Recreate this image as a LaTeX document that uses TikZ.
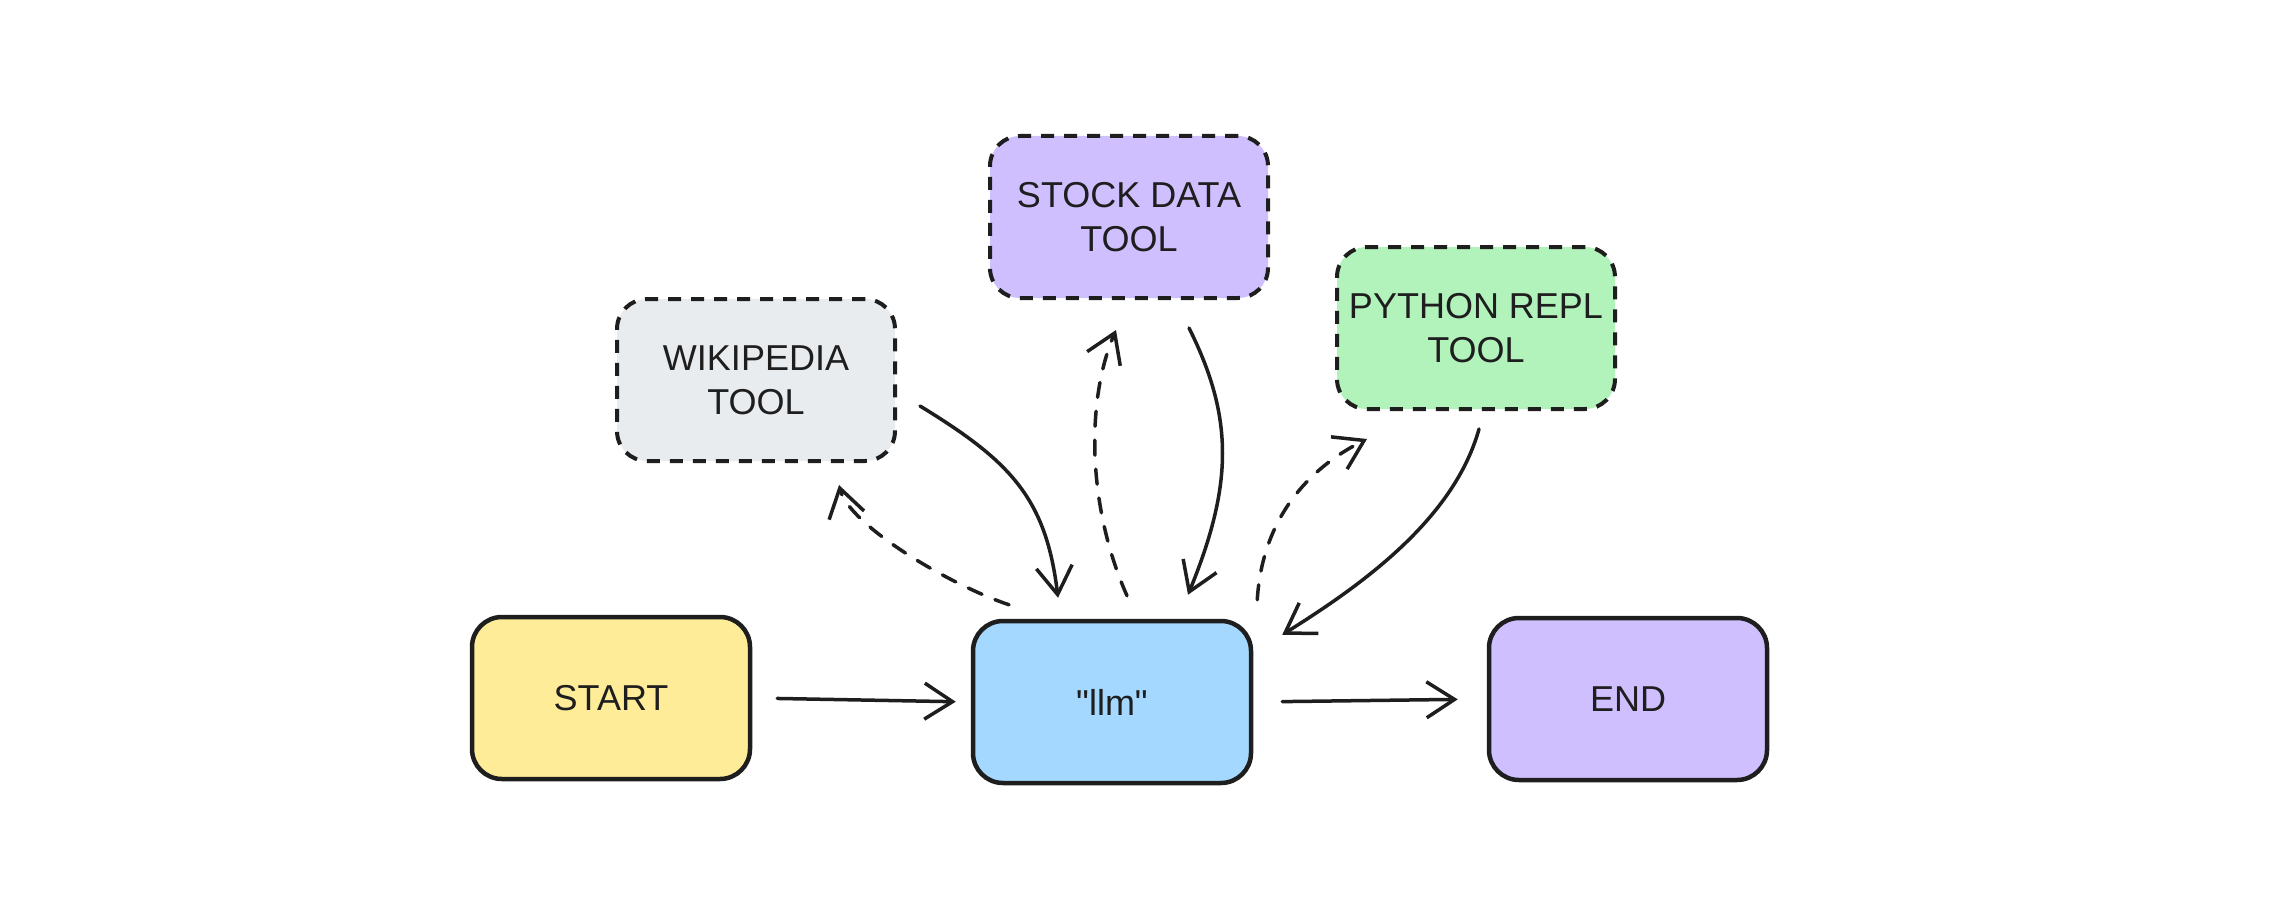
\documentclass[tikz,border=0pt]{standalone}
\usepackage{fontspec}
\setmainfont{Liberation Sans}[Ligatures=TeXOff]
\usepackage{xcolor}
\usepackage{tikz}
\usetikzlibrary{arrows.meta}

\definecolor{ink}{HTML}{1E1E1E}
\definecolor{startfill}{HTML}{FFEC99}
\definecolor{llmfill}{HTML}{A5D8FF}
\definecolor{violetfill}{HTML}{D0BFFF}
\definecolor{grayfill}{HTML}{E9ECEF}
\definecolor{greenfill}{HTML}{B2F2BB}

\begin{document}
\begin{tikzpicture}[x=1pt,y=-1pt,
  box/.style={draw=ink,line width=4.5pt,rounded corners=30pt,
              minimum width=278pt,minimum height=162pt,align=center,
              text=ink,font=\fontsize{36}{44}\selectfont},
  toolbox/.style={box,line width=4pt,dash pattern=on 13pt off 10pt},
  link/.style={draw=ink,line width=3.5pt,line cap=round,
               -{Straight Barb[length=28pt,width=36pt,line width=3.5pt]}},
  call/.style={link,dash pattern=on 15pt off 14pt}]
\useasboundingbox (0,0) rectangle (2294,920);

% main line
\node[box,fill=startfill]  (start) at (611,698)  {START};
\node[box,fill=llmfill]    (llm)   at (1112,702) {"llm"};
\node[box,fill=violetfill] (fin)   at (1628,699) {END};

% tools
\node[toolbox,fill=grayfill]   (wiki)   at (756,380)  {WIKIPEDIA\\TOOL};
\node[toolbox,fill=violetfill] (stock)  at (1129,217) {STOCK DATA\\TOOL};
\node[toolbox,fill=greenfill]  (python) at (1476,328) {PYTHON REPL\\TOOL};

\draw[link,shorten <=25pt,shorten >=15pt] (start.east) -- (llm.west);
\draw[link,shorten <=29pt,shorten >=29pt] (llm.east) -- (fin.west);

\draw[link] ([xshift=23pt,yshift=-26pt]wiki.east) .. controls +(90,55) and +(-12,-100) ..
            ([xshift=-54pt,yshift=21pt]llm.north);
\draw[call] ([xshift=-103pt,yshift=14pt]llm.north) .. controls +(-60,-20) and +(10,40) ..
            ([xshift=83pt,yshift=-22pt]wiki.south);
\draw[call] ([xshift=15pt,yshift=23pt]llm.north) .. controls +(-40,-90) and +(-30,70) ..
            ([xshift=-13pt,yshift=-30pt]stock.south);
\draw[link] ([xshift=60pt,yshift=-28pt]stock.south) .. controls +(45,90) and +(45,-110) ..
            ([xshift=76pt,yshift=24pt]llm.north);
\draw[call] ([xshift=4pt,yshift=19pt]llm.north east) .. controls +(5,-80) and +(-60,30) ..
            ([xshift=32pt,yshift=-28pt]python.south west);
\draw[link] ([xshift=3pt,yshift=-18pt]python.south) .. controls +(-25,90) and +(80,-50) ..
            ([xshift=29pt,yshift=-16pt]llm.north east);
\end{tikzpicture}
\end{document}
